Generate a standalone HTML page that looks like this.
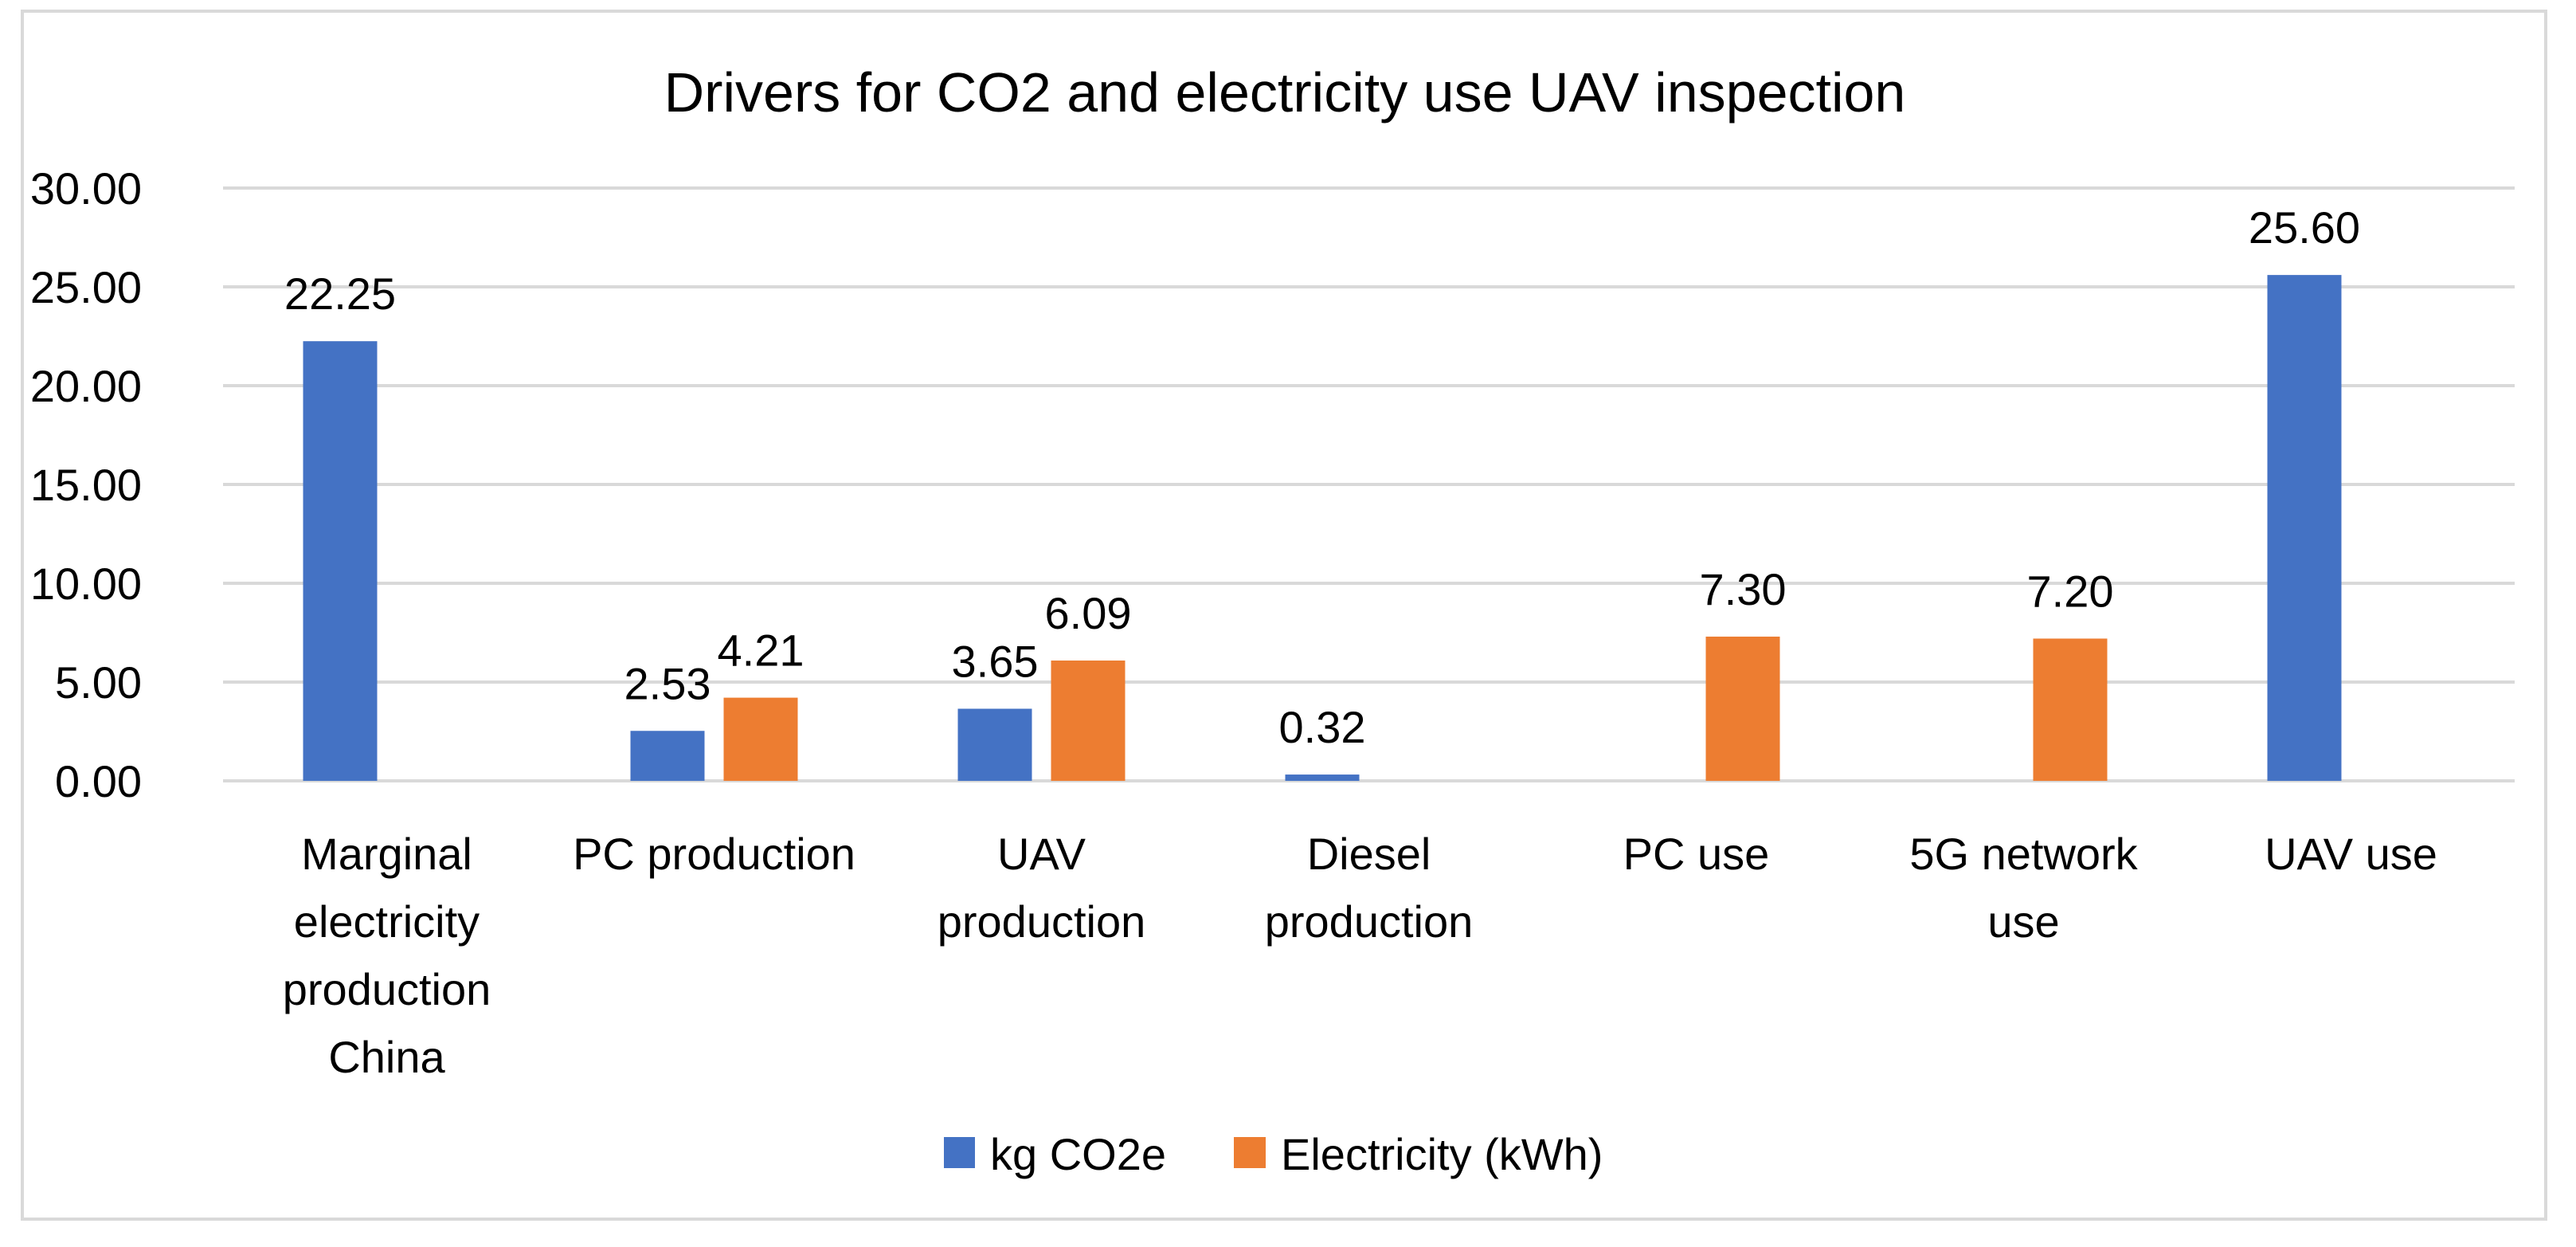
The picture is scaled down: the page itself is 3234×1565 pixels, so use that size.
<!DOCTYPE html>
<html><head><meta charset="utf-8"><style>
html,body{margin:0;padding:0;background:#fff;}
svg text{font-family:"Liberation Sans",sans-serif;fill:#000;}
</style></head><body>
<svg id="chart" width="3234" height="1560" xmlns="http://www.w3.org/2000/svg">
<rect x="28" y="14" width="3168" height="1516" fill="#fff" stroke="#d9d9d9" stroke-width="4"/>
<text x="1613" y="140" font-size="70" text-anchor="middle">Drivers for CO2 and electricity use UAV inspection</text>
<g id="grid"></g><g id="bars"></g><g id="labels"></g>
<g>
<rect x="1185" y="1427" width="39" height="39" fill="#4472c4"/>
<text x="1243" y="1468" font-size="56">kg CO2e</text>
<rect x="1549" y="1427" width="40" height="39" fill="#ed7d31"/>
<text x="1608" y="1468" font-size="56">Electricity (kWh)</text>
</g>
</svg>
<script>
const categories=[["Marginal","electricity","production","China"],["PC production"],["UAV","production"],["Diesel","production"],["PC use"],["5G network","use"],["UAV use"]];
const co2=[22.25,2.53,3.65,0.32,0,0,25.60];
const elec=[0,4.21,6.09,0,7.30,7.20,0];
const ticks=[0,5,10,15,20,25,30];
const NS="http://www.w3.org/2000/svg";
const x0=280,catW=411,y0=980,yTop=236,yMax=30;
const y=v=>y0-(v/yMax)*(y0-yTop);
const cx=i=>x0+catW*(i+0.5);
function mk(t,a,p){const e=document.createElementNS(NS,t);for(const k in a)e.setAttribute(k,a[k]);document.getElementById(p).appendChild(e);return e;}
ticks.forEach(t=>{
 const l=mk('line',{x1:x0,x2:x0+catW*7,y1:y(t),y2:y(t),stroke:'#d9d9d9','stroke-width':4},'grid');
 
 
 const tx=mk('text',{x:178,y:y(t)+20,'font-size':56,'text-anchor':'end'},'grid');
 
 
 tx.textContent=t.toFixed(2);
});
const bw=93,gap=24;
[[co2,'#4472c4',-1],[elec,'#ed7d31',1]].forEach(([arr,col,side])=>{
 arr.forEach((v,i)=>{
  const bx=side<0?cx(i)-gap/2-bw:cx(i)+gap/2;
  if(v>0){
   const r=mk('rect',{x:bx,y:y(v),width:bw,height:y0-y(v),fill:col},'bars');
   
   
   const t=mk('text',{x:bx+bw/2,y:y(v)-40,'font-size':56,'text-anchor':'middle'},'labels');
   
   
   t.textContent=v.toFixed(2);
  }
 });
});
categories.forEach((lines,i)=>{
 lines.forEach((s,j)=>{
  const t=mk('text',{x:cx(i),y:1091+j*85,'font-size':56,'text-anchor':'middle'},'labels');
  
  
  t.textContent=s;
 });
});
</script>
</body></html>
